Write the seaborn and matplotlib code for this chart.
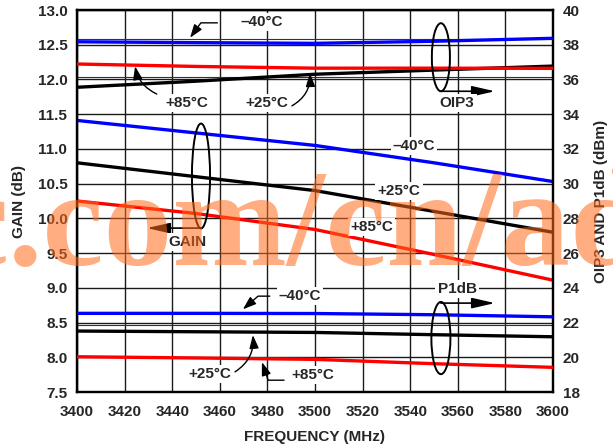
import numpy as np
import pandas as pd
import matplotlib
matplotlib.use("Agg")
import matplotlib.pyplot as plt
from matplotlib.patches import Ellipse
import seaborn as sns

# Frequency sweep (MHz)
freq = [3400, 3450, 3500, 3550, 3600]
temps = ["-40", "+25", "+85"]

# Small-signal gain (dB) per temperature
gain_m40 = [11.41, 11.23, 11.05, 10.80, 10.53]
gain_p25 = [10.80, 10.60, 10.40, 10.10, 9.80]
gain_p85 = [10.25, 10.07, 9.84, 9.48, 9.11]

# Output third-order intercept (dBm)
oip3_m40 = [38.17, 38.12, 38.08, 38.20, 38.37]
oip3_p25 = [35.55, 35.90, 36.30, 36.54, 36.77]
oip3_p85 = [36.89, 36.75, 36.65, 36.65, 36.64]

# Output 1 dB compression point (dBm)
p1db_m40 = [22.53, 22.53, 22.52, 22.45, 22.33]
p1db_p25 = [21.51, 21.47, 21.43, 21.30, 21.18]
p1db_p85 = [20.03, 19.96, 19.88, 19.63, 19.42]

x_ticks = list(range(3400, 3601, 20))
gain_ticks = [7.5 + 0.5 * i for i in range(12)]
dbm_ticks = list(range(18, 41, 2))
# secondary rulings printed next to a few of the main gridlines
extra_rules = [8.46, 12.04, 12.58]

colors = {"-40": "#0000ff", "+25": "#000000", "+85": "#ff0000"}

sns.set_style("white")
plt.rcParams["font.family"] = ["Liberation Sans", "DejaVu Sans"]
plt.rcParams["font.weight"] = "bold"

gain_df = pd.DataFrame({
    "freq": freq * 3,
    "val": gain_m40 + gain_p25 + gain_p85,
    "temp": [t for t in temps for _ in freq],
})
dbm_df = pd.DataFrame({
    "freq": freq * 6,
    "val": oip3_m40 + oip3_p25 + oip3_p85 + p1db_m40 + p1db_p25 + p1db_p85,
    "temp": [t for t in temps for _ in freq] * 2,
    "metric": ["OIP3"] * 15 + ["P1dB"] * 15,
})

W, H = 613, 447
fig = plt.figure(figsize=(W / 100, H / 100), dpi=100)
ax = fig.add_axes([77 / W, 1 - 392 / H, 476 / W, 382 / H])
ax2 = ax.twinx()

LW = 2.4
sns.lineplot(data=gain_df, x="freq", y="val", hue="temp", palette=colors,
             linewidth=LW, legend=False, ax=ax, zorder=3)
sns.lineplot(data=dbm_df, x="freq", y="val", hue="temp", units="metric",
             estimator=None, palette=colors, linewidth=LW, legend=False,
             ax=ax2, zorder=3)

ax.set_xlim(3400, 3600)
ax.set_ylim(7.5, 13.0)
ax2.set_ylim(18, 40)
ax.set_xticks(x_ticks)
ax.set_yticks(gain_ticks)
ax.set_yticks(extra_rules, minor=True)
ax.set_yticklabels([f"{v:.1f}" for v in gain_ticks])
ax2.set_yticks(dbm_ticks)
ax.grid(True, which="major", color="#1a1a1a", linewidth=1.0)
ax.grid(True, which="minor", axis="y", color="#333333", linewidth=0.8)
for a in (ax, ax2):
    a.tick_params(which="both", length=0, labelsize=11)
    for s in a.spines.values():
        s.set_linewidth(1.6)
        s.set_color("black")
ax.tick_params(axis="y", pad=7)
ax.tick_params(axis="x", pad=9)
ax2.tick_params(axis="y", pad=7)
ax.set_xlabel("FREQUENCY (MHz)", fontsize=11, fontweight="bold", labelpad=8)
ax.set_ylabel("GAIN (dB)", fontsize=11, fontweight="bold", labelpad=8)
ax2.set_ylabel("OIP3 AND P1dB (dBm)", fontsize=11, fontweight="bold", labelpad=10)
for lab in ax.get_xticklabels() + ax.get_yticklabels() + ax2.get_yticklabels():
    lab.set_fontweight("bold")

T = ax.transData
box = dict(facecolor="white", edgecolor="none", pad=1.5)
small_arrow = dict(arrowstyle="-|>,head_length=0.8,head_width=0.28",
                   color="black", lw=1.0, shrinkA=0, shrinkB=0)
big_arrow = dict(arrowstyle="-|>,head_length=1.4,head_width=0.32",
                 color="black", lw=1.2, shrinkA=0, shrinkB=0)


def label(x, y, s):
    ax2.text(x, y, s, transform=T, ha="center", va="center", fontsize=11,
             fontweight="bold", bbox=box, zorder=6)


def leader(tip, start, style):
    ax2.annotate("", xy=tip, xycoords=T, xytext=start, textcoords=T,
                 arrowprops=dict(small_arrow, connectionstyle=style), zorder=6)


# OIP3 group labels
label(3477.7, 12.83, "\u201340\u00b0C")
leader((3447.5, 12.60), (3459.0, 12.815), "angle,angleA=0,angleB=54,rad=0")
label(3446.2, 11.66, "+85\u00b0C")
leader((3424.4, 12.19), (3433.5, 11.79), "arc3,rad=-0.25")
label(3479.8, 11.66, "+25\u00b0C")
leader((3497.9, 12.09), (3490.3, 11.62), "arc3,rad=0.3")

# Gain group labels
label(3541.6, 11.04, "\u201340\u00b0C")
label(3535.3, 10.39, "+25\u00b0C")
label(3523.9, 9.875, "+85\u00b0C")

# P1dB group labels
label(3493.7, 8.88, "\u201340\u00b0C")
leader((3469.7, 8.69), (3481.0, 8.88), "angle,angleA=0,angleB=41,rad=0")
label(3455.9, 7.76, "+25\u00b0C")
leader((3473.9, 8.32), (3466.4, 7.79), "arc3,rad=0.3")
label(3499.2, 7.74, "+85\u00b0C")
leader((3477.7, 7.93), (3487.0, 7.67), "angle,angleA=0,angleB=109,rad=0")

# Group ellipses with pointer arrows towards their axis
for cx, cy, w, h in [(3552.9, 12.32, 7.6, 0.98), (3452.1, 10.61, 7.6, 1.51),
                     (3552.9, 8.277, 8.0, 1.04)]:
    ax2.add_patch(Ellipse((cx, cy), w, h, transform=T, fill=False,
                          edgecolor="black", lw=1.4, zorder=6))
for start, tip in [((3552.9, 11.83), (3575.6, 11.83)),
                   ((3452.1, 9.86), (3429.4, 9.86)),
                   ((3552.9, 8.78), (3575.6, 8.78))]:
    ax2.annotate("", xy=tip, xycoords=T, xytext=start, textcoords=T,
                 arrowprops=big_arrow, zorder=6)
label(3559.7, 11.66, "OIP3")
label(3446.2, 9.66, "GAIN")
label(3559.7, 8.98, "P1dB")

fig.text(-53 / W, 1 - 265 / H, "c.com/cn/ad", fontsize=99,
         family="Liberation Serif", fontweight="bold", color="#ff6a1a",
         alpha=0.55, ha="left", va="baseline", zorder=10)

fig.savefig("out.png", dpi=100)
